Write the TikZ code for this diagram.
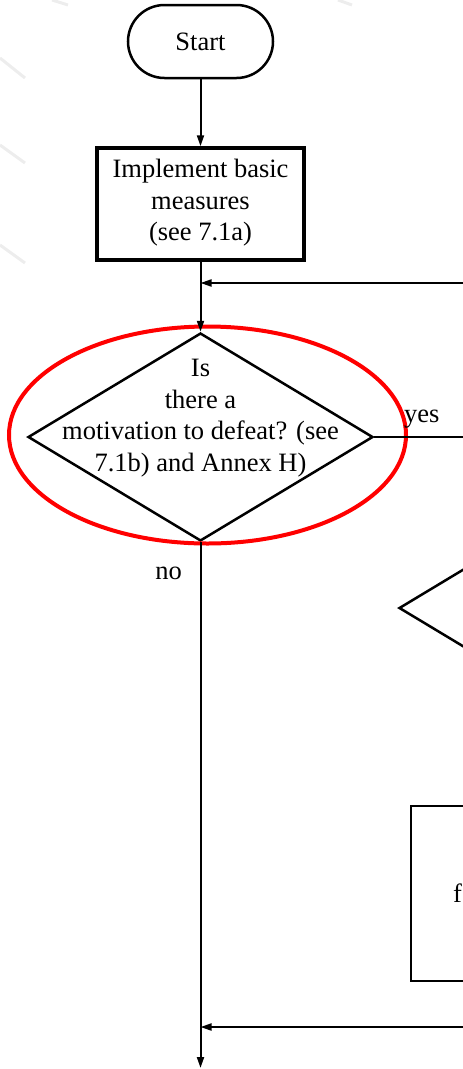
\documentclass[tikz,border=0pt]{standalone}
\usepackage{fontspec}
\setmainfont{Liberation Serif}
\usetikzlibrary{shapes.geometric,shapes.misc,arrows.meta}
\tikzset{
  txt/.style={font=\fontsize{26.5}{31.5}\selectfont, align=center, inner sep=0pt},
  conn/.style={line width=2pt, -{Triangle[length=11pt,width=7pt]}},
  plain/.style={line width=2pt},
  shp/.style={draw, line width=2.5pt, inner sep=0pt},
  faint/.style={draw=black!7, line width=3pt},
}
\begin{document}
\begin{tikzpicture}[x=1pt,y=-1pt]
\useasboundingbox (0,0) rectangle (463,1069);
\clip (0,0) rectangle (463,1069);
% faint background strokes
\draw[faint] (0,58) -- (25,78);
\draw[faint] (0,145) -- (25,163);
\draw[faint] (0,245) -- (25,263);
\draw[faint] (52,0) -- (68,5);
\draw[faint] (338,0) -- (352,5);
% start
\node[shp, rounded rectangle, minimum width=145pt, minimum height=73pt, txt] (start) at (200.5,41.5) {Start};
% basic measures
\node[shp, line width=3.5pt, rectangle, minimum width=207pt, minimum height=112pt] (basic) at (200.5,204) {};
\node[txt] (basictxt) at (200.5,203) {Implement basic\\measures\\(see 7.1a)};
% decision
\node[shp, diamond, minimum width=345pt, minimum height=208pt] (q1) at (200.5,437) {};
\node[txt] (q1txt) at (200.5,418) {Is\\there a\\motivation to defeat? (see\\7.1b) and Annex H)};
% partial shapes on right
\node[shp, diamond, minimum width=345pt, minimum height=208pt] (q2) at (571.5,608) {};
\node[shp, rectangle, minimum width=207pt, minimum height=175pt] (box2) at (514.5,893.5) {};
\node[txt, anchor=west] (box2txt) at (453,893) {f};
% red ellipse
\node[draw=red, line width=4pt, ellipse, minimum width=397pt, minimum height=217pt, inner sep=0pt] (hl) at (207.5,435) {};
% connectors
\draw[conn] (start.south) -- (basic.north);
\draw[conn] (basic.south) -- (q1.north);
\coordinate (r1) at (463,283);
\draw[conn] (r1) -- (r1 -| basic.south);
\coordinate (yesend) at (463,437);
\draw[plain] (q1.east) -- (yesend);
\node[txt, anchor=south west] (yes) at (404,428) {yes};
\node[txt, anchor=east] (no) at (182,573) {no};
\coordinate (bot) at (200.5,1068);
\draw[conn] (q1.south) -- (bot);
\coordinate (r2) at (463,1027);
\draw[conn] (r2) -- (r2 -| q1.south);
\end{tikzpicture}
\end{document}
